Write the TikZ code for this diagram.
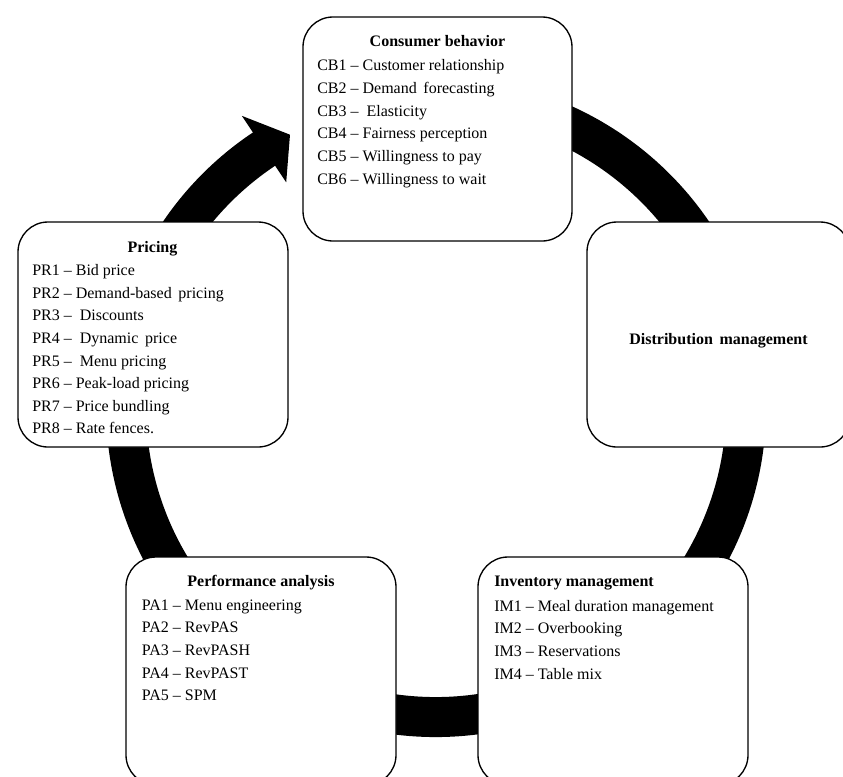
\documentclass[tikz,border=0pt]{standalone}
\usepackage{fontspec}
\setmainfont{Liberation Serif}
\begin{document}
\begin{tikzpicture}[x=0.75pt,y=0.75pt,
  box/.style={draw=black, line width=1pt, rounded corners=22.5pt, fill=white, inner sep=0pt},
  ttl/.style={font=\fontsize{12pt}{14pt}\selectfont\bfseries, inner sep=0pt, anchor=base},
  itm/.style={font=\fontsize{12pt}{14pt}\selectfont, inner sep=0pt, anchor=base west},
  ringband/.style={line width=30pt, draw=black}]
\clip (0,0) rectangle (843,-776);
\coordinate (rc) at (436,-407);
% circular band
\draw[ringband] ([shift={(100:310)}]rc) arc (100:-236.9:310);
\fill[black] ([shift={(123.7:350)}]rc) -- ([shift={(118.2:309)}]rc) -- ([shift={(123.7:270)}]rc) -- cycle;
% boxes
\node[box, minimum width=201.75pt, minimum height=168pt] (cb) at (437.5,-129) {};
\node[box, minimum width=202.5pt, minimum height=168.75pt] (pr) at (153,-334.5) {};
\node[box, minimum width=197.25pt, minimum height=168.75pt] (dm) at (718.5,-334.5) {};
\node[box, minimum width=202.5pt, minimum height=171pt] (pa) at (261,-671) {};
\node[box, minimum width=202.5pt, minimum height=171pt] (im) at (613,-671) {};
% Consumer behavior
\node[ttl] (cbt) at (437.5,-46) {Consumer behavior};
\node[itm] (cb1) at (317,-70.5) {CB1 – Customer relationship};
\node[itm] (cb2) at (317,-93.3) {CB2 – Demand\ \,forecasting};
\node[itm] (cb3) at (317,-116.1) {CB3 –\ \ Elasticity};
\node[itm] (cb4) at (317,-138.9) {CB4 – Fairness perception};
\node[itm] (cb5) at (317,-161.7) {CB5 – Willingness to pay};
\node[itm] (cb6) at (317,-184.5) {CB6 – Willingness to wait};
% Pricing
\node[ttl] (prt) at (152.5,-252.7) {Pricing};
\node[itm] (pr1) at (32,-275.7) {PR1 – Bid price};
\node[itm] (pr2) at (32,-298.3) {PR2 – Demand-based\ \,pricing};
\node[itm] (pr3) at (32,-320.9) {PR3 –\ \ Discounts};
\node[itm] (pr4) at (32,-343.5) {PR4 –\ \ Dynamic\ \,price};
\node[itm] (pr5) at (32,-366.1) {PR5 –\ \ Menu pricing};
\node[itm] (pr6) at (32,-388.7) {PR6 – Peak-load pricing};
\node[itm] (pr7) at (32,-411.3) {PR7 – Price bundling};
\node[itm] (pr8) at (32,-433.9) {PR8 – Rate fences.};
% Distribution management
\node[ttl] (dmt) at (718.5,-344) {Distribution\ \,management};
% Performance analysis
\node[ttl] (pat) at (261,-586.7) {Performance analysis};
\node[itm] (pa1) at (141.7,-610) {PA1 – Menu engineering};
\node[itm] (pa2) at (141.7,-632.7) {PA2 – RevPAS};
\node[itm] (pa3) at (141.7,-655.4) {PA3 – RevPASH};
\node[itm] (pa4) at (141.7,-678.1) {PA4 – RevPAST};
\node[itm] (pa5) at (141.7,-700.8) {PA5 – SPM};
% Inventory management
\node[ttl, anchor=base west] (imt) at (494,-586.7) {Inventory management};
\node[itm] (im1) at (494,-611) {IM1 – Meal duration management};
\node[itm] (im2) at (494,-633.7) {IM2 – Overbooking};
\node[itm] (im3) at (494,-656.4) {IM3 – Reservations};
\node[itm] (im4) at (494,-679.1) {IM4 – Table mix};
\end{tikzpicture}
\end{document}
